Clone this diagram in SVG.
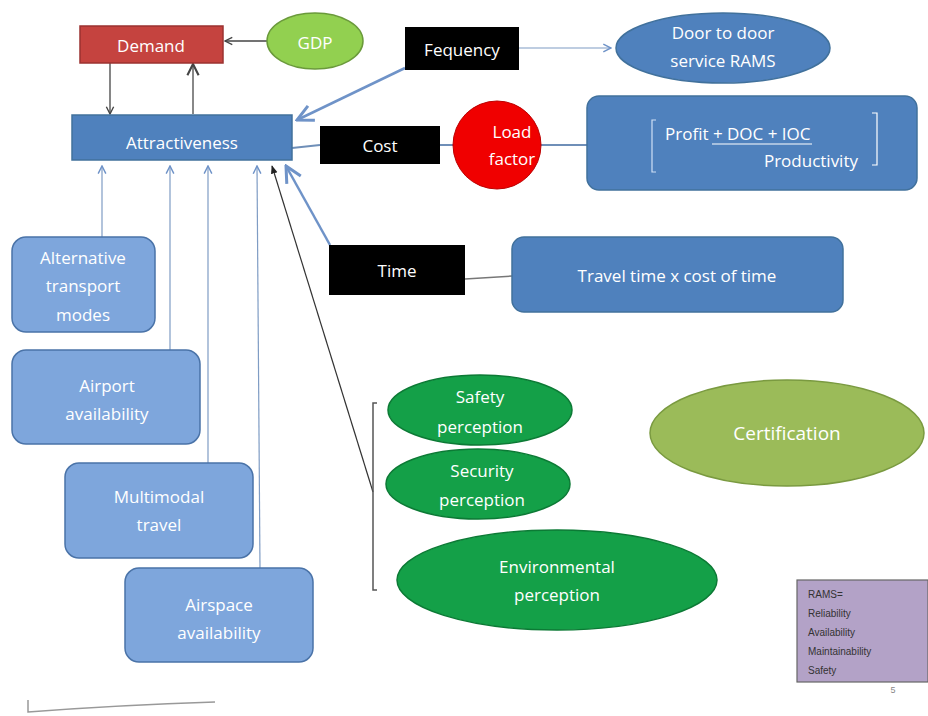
<svg xmlns="http://www.w3.org/2000/svg" width="928" height="716" viewBox="0 0 928 716">
<defs>
<marker id="ag" viewBox="0 0 10 10" refX="9" refY="5" markerWidth="7" markerHeight="7" orient="auto-start-reverse"><path d="M1,1 L9,5 L1,9" fill="none" stroke="#444" stroke-width="1.5"/></marker>
<marker id="ab" viewBox="0 0 10 10" refX="9" refY="5" markerWidth="8" markerHeight="8" orient="auto-start-reverse"><path d="M1,1 L9,5 L1,9" fill="none" stroke="#6f93c8" stroke-width="1.5"/></marker>
<marker id="ak" viewBox="0 0 10 10" refX="9" refY="5" markerWidth="7" markerHeight="7" orient="auto-start-reverse"><path d="M0,1 L10,5 L0,9 z" fill="#222"/></marker>
</defs>
<style>
text{font-family:"Open Sans","Liberation Sans",sans-serif;fill:#fff;text-anchor:middle;dominant-baseline:central}
.t{font-size:17px}
.blue{fill:#4f81bd;stroke:#41719c;stroke-width:1.5}
.lb{fill:#7ea6dc;stroke:#4a73a8;stroke-width:1.5}
.grn{fill:#14a048;stroke:#0c7a35;stroke-width:1.5}
.ln{stroke:#7f9cc4;stroke-width:1.2;fill:none}
.dk{stroke:#444;stroke-width:1.3;fill:none}
.rams{fill:#333;font-size:10px;text-anchor:start;font-family:"Liberation Sans",sans-serif}
</style>
<rect width="928" height="716" fill="#fff"/>

<g id="connectors">
<line x1="268" y1="41" x2="225" y2="41" class="dk" marker-end="url(#ag)"/>
<line x1="110" y1="63" x2="110" y2="114" class="dk" marker-end="url(#ag)"/>
<line x1="193" y1="114" x2="193" y2="64" stroke="#888" stroke-width="2" marker-end="url(#ag)"/>
<line x1="519" y1="48" x2="611" y2="48" class="ln" marker-end="url(#ab)"/>
<line x1="405" y1="68" x2="297" y2="120" stroke="#6f93c8" stroke-width="2.5" marker-end="url(#ab)"/>
<line x1="292" y1="148" x2="320" y2="145" stroke="#6f8fb8" stroke-width="2"/>
<line x1="440" y1="145" x2="454" y2="145" stroke="#6f8fb8" stroke-width="2"/>
<line x1="541" y1="145" x2="587" y2="145" stroke="#6f8fb8" stroke-width="2"/>
<line x1="330" y1="245" x2="286" y2="166" stroke="#6f93c8" stroke-width="2.5" marker-end="url(#ab)"/>
<line x1="465" y1="279" x2="512" y2="276" stroke="#777" stroke-width="1.5"/>
<line x1="373" y1="492" x2="272" y2="166" stroke="#333" stroke-width="1.2" marker-end="url(#ak)"/>
<path d="M377,403 L373,403 L373,590 L377,590" stroke="#555" stroke-width="1.5" fill="none"/>
<line x1="102" y1="237" x2="102" y2="166" class="ln" marker-end="url(#ab)"/>
<line x1="170" y1="350" x2="170" y2="166" class="ln" marker-end="url(#ab)"/>
<line x1="208" y1="463" x2="208" y2="166" class="ln" marker-end="url(#ab)"/>
<line x1="260" y1="568" x2="257" y2="166" class="ln" marker-end="url(#ab)"/>
</g>

<g id="demand"><rect x="80" y="26" width="143" height="37" fill="#c5433f" stroke="#9b3230" stroke-width="1.5"/><text x="151" y="45" class="t">Demand</text></g>
<g id="gdp"><ellipse cx="315" cy="41" rx="48" ry="28" fill="#92d050" stroke="#6a9a3a" stroke-width="1.5"/><text x="315" y="42" class="t">GDP</text></g>
<g id="attractiveness"><rect x="72" y="115" width="220" height="45" class="blue"/><text x="182" y="142" class="t">Attractiveness</text></g>
<g id="fequency"><rect x="405" y="27" width="114" height="43" fill="#000"/><text x="462" y="49" class="t">Fequency</text></g>
<g id="door"><ellipse cx="723" cy="48" rx="107" ry="35" class="blue"/><text x="723" y="32" class="t">Door to door</text><text x="723" y="60" class="t">service RAMS</text></g>
<g id="cost"><rect x="320" y="126" width="120" height="38" fill="#000"/><text x="380" y="145" class="t">Cost</text></g>
<g id="loadfactor"><ellipse cx="497" cy="145" rx="44" ry="44" fill="#f00000" stroke="#b00" stroke-width="1"/><text x="512" y="131" class="t">Load</text><text x="512" y="158" class="t">factor</text></g>
<g id="formula"><rect x="587" y="96" width="330" height="94" rx="12" class="blue"/>
<path d="M656,120 L652,120 L652,172 L656,172" stroke="#cfe0f5" stroke-width="1.2" fill="none"/>
<path d="M872,113 L877,113 L877,165 L872,165" stroke="#fff" stroke-width="1.2" fill="none"/>
<text x="665" y="133" class="t" style="text-anchor:start">Profit + DOC + IOC</text>
<line x1="712" y1="144" x2="812" y2="144" stroke="#fff" stroke-width="1.2"/>
<text x="858" y="160" class="t" style="text-anchor:end">Productivity</text></g>
<g id="time"><rect x="329" y="245" width="136" height="50" fill="#000"/><text x="397" y="270" class="t">Time</text></g>
<g id="travel"><rect x="512" y="237" width="331" height="75" rx="12" class="blue"/><text x="677" y="275" class="t">Travel time x cost of time</text></g>
<g id="alternative"><rect x="12" y="237" width="143" height="95" rx="14" class="lb"/><text x="83" y="257" class="t">Alternative</text><text x="83" y="285" class="t">transport</text><text x="83" y="314" class="t">modes</text></g>
<g id="airport"><rect x="12" y="350" width="188" height="94" rx="14" class="lb"/><text x="107" y="385" class="t">Airport</text><text x="107" y="413" class="t">availability</text></g>
<g id="multimodal"><rect x="65" y="463" width="188" height="95" rx="14" class="lb"/><text x="159" y="496" class="t">Multimodal</text><text x="159" y="524" class="t">travel</text></g>
<g id="airspace"><rect x="125" y="568" width="188" height="94" rx="14" class="lb"/><text x="219" y="604" class="t">Airspace</text><text x="219" y="632" class="t">availability</text></g>
<g id="safety"><ellipse cx="480" cy="410" rx="92" ry="35" class="grn"/><text x="480" y="396" class="t">Safety</text><text x="480" y="426" class="t">perception</text></g>
<g id="security"><ellipse cx="478" cy="484" rx="92" ry="35" class="grn"/><text x="482" y="470" class="t">Security</text><text x="482" y="499" class="t">perception</text></g>
<g id="environmental"><ellipse cx="557" cy="580" rx="160" ry="50" class="grn"/><text x="557" y="566" class="t">Environmental</text><text x="557" y="594" class="t">perception</text></g>
<g id="certification"><ellipse cx="787" cy="433" rx="137" ry="53" fill="#9bbb59" stroke="#7a9a40" stroke-width="1.5"/><text x="787" y="433" style="font-size:19px">Certification</text></g>
<g id="rams"><rect x="797" y="580" width="131" height="102" fill="#b3a2c7" stroke="#666" stroke-width="1.2"/>
<text x="808" y="594" class="rams">RAMS=</text><text x="808" y="613" class="rams">Reliability</text><text x="808" y="632" class="rams">Availability</text><text x="808" y="651" class="rams">Maintainability</text><text x="808" y="670" class="rams">Safety</text></g>
<text x="893" y="690" style="fill:#888;font-size:9px;font-family:'Liberation Sans',sans-serif">5</text>
<path d="M28,700 L28,712 Q120,705 215,702" stroke="#999" stroke-width="1.5" fill="none"/>
</svg>
